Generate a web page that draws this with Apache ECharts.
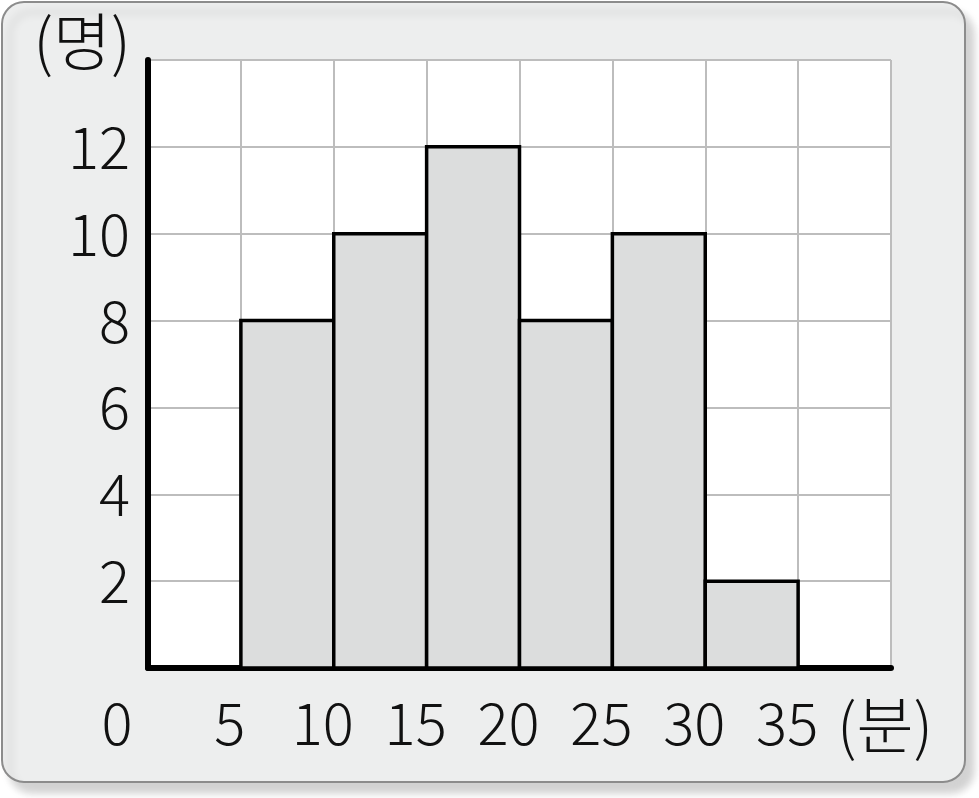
<!DOCTYPE html>
<html><head><meta charset="utf-8">
<script src="https://cdn.jsdelivr.net/npm/echarts@6/dist/echarts.min.js"></script>
<style>html,body{margin:0;padding:0;background:#fff}#c{width:979px;height:798px}</style>
</head><body><div id="c"></div>
<script>
var binStarts = [5, 10, 15, 20, 25, 30];
var binEnds = [10, 15, 20, 25, 30, 35];
var counts = [8, 10, 12, 8, 10, 2];
var xTicks = [0, 5, 10, 15, 20, 25, 30, 35, 40];
var yTicks = [0, 2, 4, 6, 8, 10, 12, 14];
var yUnit = '(명)';
var xUnit = '(분)';

var FONT = '"Noto Sans CJK KR", "Noto Sans", sans-serif';
var chart = echarts.init(document.getElementById('c'), null, {renderer: 'canvas'});
var data = binStarts.map(function (s, i) { return [s, binEnds[i], counts[i]]; });
function txt(extra) {
  var o = {fontFamily: FONT, fontWeight: 300, fontSize: 58, color: '#111'};
  for (var k in extra) o[k] = extra[k];
  return o;
}

chart.setOption({
  animation: false,
  graphic: [{
    type: 'rect', z: -10, silent: true,
    shape: {x: 2, y: 2, width: 963, height: 780, r: 22},
    style: {fill: '#edeeee', stroke: '#8c8c8c', lineWidth: 2,
      shadowBlur: 8, shadowOffsetX: 8, shadowOffsetY: 10, shadowColor: 'rgba(0,0,0,0.18)'}
  }],
  grid: {left: 148, right: 88, top: 60, bottom: 130, show: true, backgroundColor: '#fff', borderWidth: 0, z: -1},
  xAxis: {
    type: 'value', min: xTicks[0], max: xTicks[xTicks.length - 1], interval: 5,
    axisLine: {show: true, onZero: false, lineStyle: {color: '#000', width: 6}},
    axisTick: {show: false},
    splitLine: {show: true, lineStyle: {color: '#bdbdbd', width: 2}},
    axisLabel: {
      margin: 26, showMaxLabel: true, showMinLabel: true,
      fontFamily: FONT, fontWeight: 300, fontSize: 58, color: '#111',
      formatter: function (v) {
        if (v === 40) return '{u|' + xUnit + '}';
        if (v === 0) return '{o|0}';
        return '{n|' + v + '}';
      },
      rich: {
        o: txt({padding: [0, 62, 0, 0]}),
        n: txt({padding: [0, 22, 0, 0]}),
        u: txt({fontSize: 62, padding: [0, 12, 0, 0]})
      }
    }
  },
  yAxis: {
    type: 'value', min: yTicks[0], max: yTicks[yTicks.length - 1], interval: 2,
    name: yUnit, nameLocation: 'end', nameGap: 19,
    nameTextStyle: txt({fontSize: 63, align: 'center', verticalAlign: 'middle', padding: [0, 132, 0, 0]}),
    axisLine: {show: true, onZero: false, lineStyle: {color: '#000', width: 6}},
    axisTick: {show: false},
    splitLine: {show: true, lineStyle: {color: '#bdbdbd', width: 2}},
    axisLabel: {
      margin: 18, fontFamily: FONT, fontWeight: 300, fontSize: 58, color: '#111',
      formatter: function (v) { return (v === 0 || v === 14) ? '' : String(v); }
    }
  },
  series: [{
    type: 'custom',
    data: data,
    encode: {x: [0, 1], y: 2},
    renderItem: function (params, api) {
      var p0 = api.coord([api.value(0), api.value(2)]);
      var p1 = api.coord([api.value(1), 0]);
      return {
        type: 'rect',
        shape: {x: p0[0], y: p0[1], width: p1[0] - p0[0], height: p1[1] - p0[1]},
        style: {fill: '#dcdddd', stroke: '#000', lineWidth: 3.5}
      };
    }
  }]
});
</script></body></html>
